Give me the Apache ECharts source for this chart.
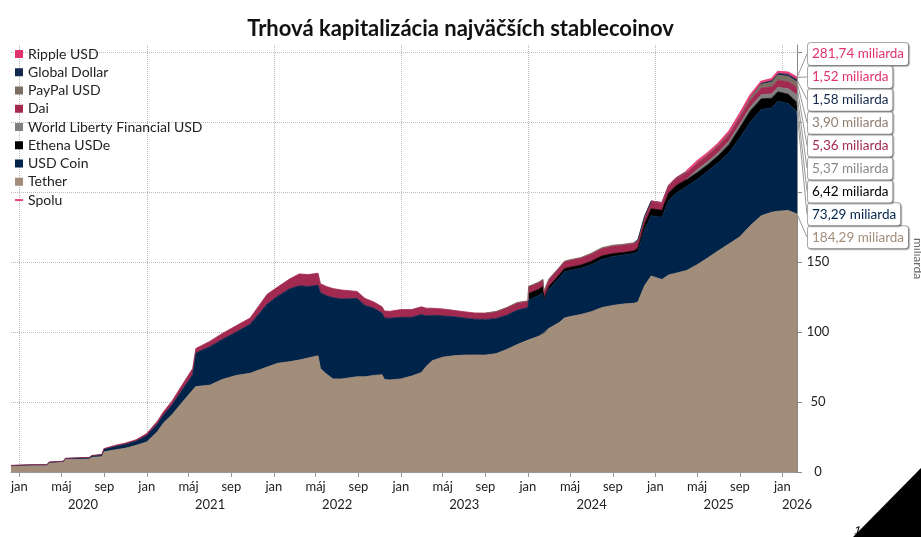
<!DOCTYPE html>
<html>
<head>
<meta charset="utf-8">
<script src="https://cdn.jsdelivr.net/npm/echarts@6/dist/echarts.min.js"></script>
<style>html,body{margin:0;padding:0;background:#fff}#c{width:921px;height:537px}</style>
</head>
<body>
<div id="c"></div>
<script>
const FONT = 'Lato';

// ---- data (billions USD) ----
const dates = [
  '2019-12-08','2020-01-01','2020-02-01','2020-03-20','2020-03-27','2020-05-06','2020-05-12','2020-07-20','2020-07-27','2020-08-25','2020-08-31','2020-10-01','2020-11-01','2020-12-01',
  '2021-01-01','2021-02-01','2021-02-18','2021-03-15','2021-04-07','2021-05-13','2021-05-22','2021-07-01','2021-08-05','2021-09-15','2021-10-25','2021-12-13',
  '2022-01-12','2022-02-15','2022-03-15','2022-04-10','2022-05-08','2022-05-15','2022-06-01','2022-06-20','2022-07-15','2022-08-28','2022-09-20','2022-10-15','2022-11-08','2022-11-15','2022-12-01',
  '2023-01-01','2023-02-01','2023-03-01','2023-03-15','2023-04-01','2023-05-01','2023-06-01','2023-07-01','2023-08-01','2023-09-01','2023-10-01','2023-11-01','2023-12-01',
  '2024-01-01','2024-01-03','2024-02-01','2024-02-13','2024-02-16','2024-03-01','2024-04-01','2024-04-15','2024-05-01','2024-06-01','2024-07-01','2024-08-01','2024-09-01','2024-10-01','2024-11-01','2024-11-12','2024-12-01','2024-12-20',
  '2025-01-20','2025-02-08','2025-03-01','2025-04-01','2025-05-01','2025-06-01','2025-07-01','2025-08-01','2025-09-01','2025-10-01','2025-11-01','2025-12-01','2025-12-19',
  '2026-01-18','2026-02-12'
];

const tether = [
  4.1,4.3,4.6,4.6,6.4,6.9,8.9,9.3,10.5,10.9,14.4,15.8,17.0,19.0,
  21.5,29,35,41,48,58.5,61,62,66,69,70.5,75,
  77.6,78.8,80,81.5,83,74,70,66.5,66.5,68,68,69,69.5,66,65.8,
  66.5,68.5,71,75.5,79.5,82,83,83.5,83.6,83.5,84.5,87.5,91,
  94,94.5,97,99,99,102.5,107,110,111,112.5,114.5,117.5,119,120,120.5,121.5,133,140,
  137.5,140.7,142,144,148,153,158,163,168,176,183,185.5,186.3,
  186.8,184.29
];

const usdCoin = [
  0.5,0.5,0.55,0.6,0.65,0.7,0.75,1.0,1.1,1.3,1.8,2.4,2.8,3.0,
  4.5,5.5,5.7,7,8.6,11,24,27.5,28.5,31,35,45,
  48,52,53,51,50.5,54,56,58,57,56,51,48,44,44,44,
  44,42,41.5,36,32.5,29.5,28,26.5,25.5,25.5,25,24.5,24.5,
  23.5,28.5,29,29,24,28,32,33,33,33,33.5,34.5,35,35,35.5,36,40,43,
  44.5,53,57,60,61,62,63,65,71,74,76,74.5,78.5,
  76.5,73.29
];

const ethena = [
  null,null,null,null,null,null,null,null,null,null,null,null,null,null,
  null,null,null,null,null,null,null,null,null,null,null,null,
  null,null,null,null,null,null,null,null,null,null,null,null,null,null,null,
  null,null,null,null,null,null,null,null,null,null,null,null,null,
  null,4.5,4.5,4.5,1.0,2,2.2,2.3,2.3,2.3,2.6,2.4,2.0,1.8,2.0,2.5,4,5,
  5,5.5,5.5,5,4.8,4.6,5,6,7,8,7.5,7,6.8,
  6.5,6.42
];

const worldLiberty = [
  null,null,null,null,null,null,null,null,null,null,null,null,null,null,
  null,null,null,null,null,null,null,null,null,null,null,null,
  null,null,null,null,null,null,null,null,null,null,null,null,null,null,null,
  null,null,null,null,null,null,null,null,null,null,null,null,null,
  null,null,null,null,null,null,null,null,null,null,null,null,null,null,null,null,null,null,
  null,null,null,0.1,2.1,2.2,2.2,2.4,2.6,2.8,2.9,3,3.2,
  3.9,5.37
];

const dai = [
  0.1,0.1,0.1,0.1,0.1,0.1,0.12,0.15,0.2,0.4,0.5,0.8,0.9,1.0,
  1.5,2.0,2.3,2.8,3.4,4.5,3.2,3.8,4.3,4.5,4.5,7,
  6.5,7,8.5,8.5,8.5,6.5,6.5,6.5,6.5,5,5,4.5,4.5,5,5,
  5.5,5.5,5.5,5.5,5,5,4.5,4.5,4.5,4.5,5,5.3,5.3,
  4.5,4.8,4.8,4.8,4.8,5,5,5,5,5,5.2,5.2,5.3,5.3,5.3,5.3,5,5,
  4.8,4.8,4.7,4.6,4.5,4.5,4.6,4.7,4.8,4.8,4.9,5,5,
  5.1,5.36
];

const paypal = [
  null,null,null,null,null,null,null,null,null,null,null,null,null,null,
  null,null,null,null,null,null,null,null,null,null,null,null,
  null,null,null,null,null,null,null,null,null,null,null,null,null,null,null,
  null,null,null,null,null,null,null,null,null,0.05,0.1,0.2,0.3,
  0.3,0.3,0.3,0.3,0.3,0.3,0.3,0.3,0.35,0.4,0.5,0.7,0.7,0.6,0.5,0.5,0.5,0.5,
  0.5,0.55,0.6,0.7,0.9,0.9,0.9,1.1,1.3,2.0,2.6,3.4,3.6,
  3.8,3.90
];

const globalDollar = [
  null,null,null,null,null,null,null,null,null,null,null,null,null,null,
  null,null,null,null,null,null,null,null,null,null,null,null,
  null,null,null,null,null,null,null,null,null,null,null,null,null,null,null,
  null,null,null,null,null,null,null,null,null,null,null,null,null,
  null,null,null,null,null,null,null,null,null,null,null,null,null,null,0.01,0.02,0.05,0.08,
  0.1,0.15,0.2,0.3,0.3,0.3,0.4,0.5,0.6,0.7,0.9,1.1,1.2,
  1.35,1.58
];

const rippleUsd = [
  null,null,null,null,null,null,null,null,null,null,null,null,null,null,
  null,null,null,null,null,null,null,null,null,null,null,null,
  null,null,null,null,null,null,null,null,null,null,null,null,null,null,null,
  null,null,null,null,null,null,null,null,null,null,null,null,null,
  null,null,null,null,null,null,null,null,null,null,null,null,null,null,null,null,null,0.02,
  0.05,0.07,0.1,0.15,0.25,0.35,0.45,0.55,0.65,0.75,0.95,1.15,1.25,
  1.35,1.52
];

const spolu = [
  null,null,null,null,null,null,null,null,null,null,null,null,null,null,
  null,null,null,null,null,null,null,null,null,null,null,null,
  null,null,null,null,null,null,null,null,null,null,null,null,null,null,null,
  null,null,null,null,null,null,null,null,null,null,null,null,null,
  null,null,null,null,null,null,null,null,null,null,null,null,null,null,null,null,null,null,
  null,null,null,214.85,221.85,227.85,234.55,243.25,255.95,269.05,278.75,280.65,285.85,
  285.3,281.74
];

// tick labels
const years = [2020, 2021, 2022, 2023, 2024, 2025, 2026];
const tickMonths = [0, 4, 8];
const tickMonthNames = ['jan', 'máj', 'sep'];
const yTicks = [0, 50, 100, 150, 200, 250, 300];

// ---- styling / build ----
const stackDefs = [
  { name: 'Tether', values: tether, color: '#a18d7a', text: '#a18d7a' },
  { name: 'USD Coin', values: usdCoin, color: '#00234a', text: '#00234a' },
  { name: 'Ethena USDe', values: ethena, color: '#000000', text: '#000000' },
  { name: 'World Liberty Financial USD', values: worldLiberty, color: '#808080', text: '#8a8a8a' },
  { name: 'Dai', values: dai, color: '#a2294f', text: '#a2294f' },
  { name: 'PayPal USD', values: paypal, color: '#7b6e63', text: '#8f7e70' },
  { name: 'Global Dollar', values: globalDollar, color: '#13294b', text: '#13294b' },
  { name: 'Ripple USD', values: rippleUsd, color: '#e2336f', text: '#e2336f' }
];
const labelOrder = ['Spolu', 'Ripple USD', 'Global Dollar', 'PayPal USD', 'Dai',
  'World Liberty Financial USD', 'Ethena USDe', 'USD Coin', 'Tether'];

const toTime = s => { const p = s.split('-').map(Number); return +new Date(p[0], p[1] - 1, p[2]); };
const tMin = toTime(dates[0]), tMax = toTime(dates[dates.length - 1]);
const monthTickVals = [];
years.forEach(y => tickMonths.forEach(m => {
  const t = +new Date(y, m, 1);
  if (t >= tMin && t <= tMax) monthTickVals.push(t);
}));
const janVals = years.map(y => +new Date(y, 0, 1)).filter(t => t >= tMin && t <= tMax);
const yearLabelVals = years.map(y => Math.min(+new Date(y, 6, 2), tMax));

const fmt = v => v.toFixed(2).replace('.', ',') + ' miliarda';

function makeData(values) {
  return dates.map((d, i) => {
    const v = values[i];
    const item = { value: [toTime(d), v == null ? '-' : v] };
    if (i === dates.length - 1) item.label = { show: true };
    return item;
  });
}

function labelCfg(textColor, name) {
  const rank = labelOrder.indexOf(name);
  return {
    label: {
      show: false, position: 'right',
      formatter: p => fmt(p.value[1]),
      color: textColor, fontSize: 13.5, fontFamily: FONT, lineHeight: 17,
      backgroundColor: '#fff', borderColor: '#a8a8a8', borderWidth: 1, borderRadius: 3,
      padding: [3, 4, 2, 4],
      shadowColor: 'rgba(0,0,0,0.25)', shadowOffsetX: 1, shadowOffsetY: 1, shadowBlur: 1
    },
    labelLine: { show: true, length2: 4, smooth: false, lineStyle: { color: '#999', width: 1 } },
    labelLayout: () => ({ x: 808, y: 54 + 22.9 * rank, align: 'left', verticalAlign: 'middle' })
  };
}

const series = stackDefs.map(s => Object.assign({
  name: s.name, type: 'line', stack: 'total', data: makeData(s.values),
  xAxisIndex: 0,
  showSymbol: true, symbol: 'circle', symbolSize: 0, clip: false,
  itemStyle: { color: s.color },
  lineStyle: { color: s.color, width: 0.8 },
  areaStyle: { color: s.color, opacity: 1 },
  emphasis: { disabled: true }, silent: true
}, labelCfg(s.text, s.name)));

series.push(Object.assign({
  name: 'Spolu', type: 'line', data: makeData(spolu),
  xAxisIndex: 0,
  showSymbol: true, symbol: 'circle', symbolSize: 0, clip: false,
  itemStyle: { color: '#e8437a' },
  lineStyle: { color: '#e8437a', width: 2 },
  emphasis: { disabled: true }, silent: true, z: 3
}, labelCfg('#e2336f', 'Spolu')));

const legendNames = ['Ripple USD', 'Global Dollar', 'PayPal USD', 'Dai', 'World Liberty Financial USD',
  'Ethena USDe', 'USD Coin', 'Tether'];

const chart = echarts.init(document.getElementById('c'), null, { renderer: 'canvas' });
chart.setOption({
  animation: false,
  backgroundColor: '#fff',
  textStyle: { fontFamily: FONT },
  title: {
    text: 'Trhová kapitalizácia najväčších stablecoinov',
    left: 'center', top: 13,
    textStyle: { fontSize: 22, fontWeight: 'bold', color: '#111', fontFamily: FONT }
  },
  legend: {
    orient: 'vertical', left: 10, top: 42,
    itemWidth: 8, itemHeight: 8, itemGap: 4.25, icon: 'rect',
    selectedMode: false,
    textStyle: { fontSize: 14, color: '#222', fontFamily: FONT },
    data: legendNames.map(n => ({ name: n })).concat([{ name: 'Spolu', icon: 'path://M0,0M-2,2.6h12v3h-12zM10,8' }])
  },
  grid: { left: 11, right: 124, top: 45, bottom: 65, containLabel: false, outerBoundsMode: 'none' },
  xAxis: [
    {
      // data axis (carries the series); drawn invisibly
      type: 'time', min: tMin, max: tMax, position: 'bottom',
      axisLine: { show: false }, axisTick: { show: false }, axisLabel: { show: false },
      splitLine: { show: false }
    },
    {
      type: 'value', min: tMin, max: tMax, position: 'bottom',
      axisLine: { show: true, onZero: false, lineStyle: { color: '#999' } },
      axisTick: { show: true, length: 5, customValues: monthTickVals, lineStyle: { color: '#999' } },
      axisLabel: {
        customValues: monthTickVals, margin: 8, fontSize: 13, color: '#222', fontFamily: FONT,
        formatter: v => tickMonthNames[tickMonths.indexOf(new Date(v).getMonth())]
      },
      splitLine: { show: false }
    },
    {
      type: 'value', min: tMin, max: tMax, position: 'bottom',
      axisLine: { show: false, onZero: false },
      axisTick: { show: false, customValues: janVals },
      axisLabel: {
        customValues: yearLabelVals, margin: 26, fontSize: 13, color: '#222', fontFamily: FONT,
        formatter: v => String(years[years.indexOf(new Date(v).getFullYear())])
      },
      splitLine: { show: true, lineStyle: { type: 'dotted', color: '#bbb', width: 1 } }
    }
  ],
  yAxis: {
    type: 'value', position: 'right', min: 0, max: 305,
    axisLine: { show: true, lineStyle: { color: '#888' } },
    axisTick: { show: true, length: 5, customValues: yTicks, lineStyle: { color: '#888' } },
    axisLabel: { customValues: yTicks, margin: 21, align: 'center', fontSize: 13, color: '#222', fontFamily: FONT },
    splitLine: { show: true, lineStyle: { type: 'dotted', color: '#bbb', width: 1 } },
    name: 'miliarda', nameLocation: 'middle', nameGap: 115, nameRotate: -90,
    nameTextStyle: { color: '#666', fontSize: 12, fontFamily: FONT }
  },
  graphic: [
    { type: 'polygon', shape: { points: [[853, 537], [921, 468], [921, 537]] }, style: { fill: '#000' }, silent: true },
    { type: 'text', x: 856, y: 524, rotation: -0.3, style: { text: '1', fill: '#000', font: '12px ' + FONT }, silent: true }
  ],
  series: series
});
</script>
</body>
</html>
